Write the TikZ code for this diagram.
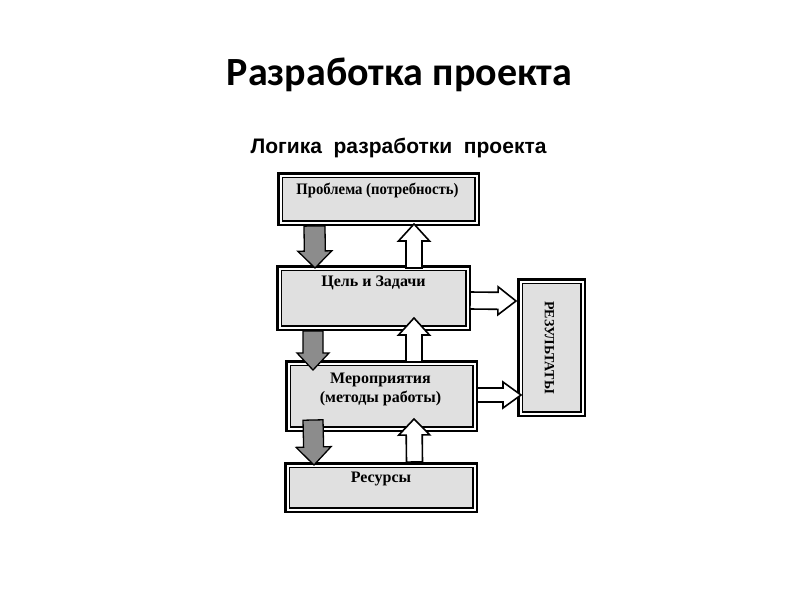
\documentclass[tikz,border=0pt]{standalone}
\usepackage{fontspec}
\setmainfont{Liberation Serif}
\newfontfamily\titlefont{Carlito}
\newfontfamily\subfont{Liberation Sans}
\usetikzlibrary{calc}
\definecolor{boxgray}{RGB}{224,224,224}
\definecolor{arrgray}{RGB}{140,140,140}
\newcommand{\blockarr}[6]{%
  \coordinate (#2h) at ($(#3)!#6!(#2)$);
  \draw[#1] ($(#2)!#4!90:(#3)$) -- ($(#2h)!#4!90:(#3)$) -- ($(#2h)!#5!90:(#3)$) -- (#3)
    -- ($(#2h)!#5!-90:(#3)$) -- ($(#2h)!#4!-90:(#3)$) -- ($(#2)!#4!-90:(#3)$) -- cycle;}
\tikzset{
  box/.style={rectangle, inner sep=0pt, outer sep=0pt, fill=boxgray, draw=black,
    line width=1.5pt, double=white, double distance=2pt,
    preaction={draw=black, line width=7pt}},
  boxtext/.style={inner sep=0pt, font=\bfseries\fontsize{16}{19}\selectfont, align=center},
  darr/.style={fill=arrgray, draw=black, line width=1.3pt, line join=miter},
  uarr/.style={fill=white, draw=black, line width=1.6pt, line join=miter},
}
\begin{document}
\begin{tikzpicture}[x=1pt,y=-1pt]
\useasboundingbox (0,0) rectangle (800,600);
\node[font=\titlefont\bfseries\fontsize{40}{44}\selectfont] (title) at (399.5,75) {Разработка проекта};
\node[font=\subfont\bfseries\fontsize{21}{24}\selectfont] (sub) at (398.5,148) {Логика\ \ разработки\ \ проекта};

\node[box, minimum width=196, minimum height=47] (b1) at (378.5,199) {};
\node[box, minimum width=188, minimum height=59] (b2) at (373.5,298) {};
\node[box, minimum width=186, minimum height=65] (b3) at (381.5,396) {};
\node[box, minimum width=187, minimum height=44] (b4) at (381,487.5) {};
\node[box, minimum width=62, minimum height=132] (b5) at (551.5,347.5) {};

\node[boxtext] (t1) at ($(b1.north)+(-1,14.5)$) {\scalebox{0.92}[1]{Проблема (потребность)}};
\node[boxtext] (t2) at ($(b2.north)+(0,14.5)$) {Цель и Задачи};
\node[boxtext] (t3) at ($(b3.north)+(-1,26)$) {Мероприятия\\(методы работы)};
\node[boxtext] (t4) at ($(b4.north)+(0,13.5)$) {Ресурсы};
\node[boxtext, rotate=-90, font=\bfseries\fontsize{14}{16}\selectfont] (t5) at ($(b5.center)+(-2,0)$) {РЕЗУЛЬТАТЫ};

\coordinate (d1a) at ($(b1.south)+(-64,3.5)$);
\coordinate (d1b) at ($(b2.north)+(-58.5,-0.5)$);
\coordinate (d2a) at ($(b2.south)+(-60.5,3.5)$);
\coordinate (d2b) at ($(b3.north)+(-68.5,6.5)$);
\coordinate (d3a) at ($(b3.south)+(-68.5,-8.5)$);
\coordinate (d3b) at ($(b4.north)+(-67,-0.5)$);
\coordinate (u1a) at ($(b2.north)+(40.5,-0.5)$);
\coordinate (u1b) at ($(b1.south)+(35.5,1.5)$);
\coordinate (u2a) at ($(b3.north)+(32.5,-1.5)$);
\coordinate (u2b) at ($(b2.south)+(40.5,-9.5)$);
\coordinate (u3a) at ($(b4.north)+(33.5,-3.5)$);
\coordinate (u3b) at ($(b3.south)+(32.5,-9.5)$);
\coordinate (r1a) at ($(b2.east)+(2.5,2.5)$);
\coordinate (r1b) at ($(b5.west)+(-4.5,-46.5)$);
\coordinate (r2a) at ($(b3.east)+(2.5,-1)$);
\coordinate (r2b) at ($(b5.west)+(0.5,47.5)$);

\blockarr{darr}{d1a}{d1b}{10.5pt}{17pt}{17pt}
\blockarr{darr}{d2a}{d2b}{10pt}{16pt}{17pt}
\blockarr{darr}{d3a}{d3b}{10pt}{17.5pt}{18pt}
\blockarr{uarr}{u1a}{u1b}{8pt}{15.5pt}{17pt}
\blockarr{uarr}{u2a}{u2b}{8pt}{15.5pt}{17pt}
\blockarr{uarr}{u3a}{u3b}{8pt}{15.5pt}{16pt}
\blockarr{uarr}{r1a}{r1b}{8.5pt}{14pt}{18pt}
\blockarr{uarr}{r2a}{r2b}{7pt}{13pt}{18pt}
\end{tikzpicture}
\end{document}
